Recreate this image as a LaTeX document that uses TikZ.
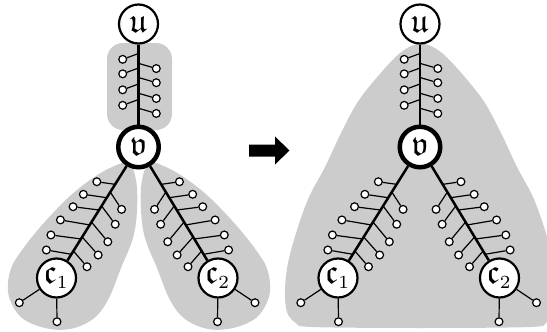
\documentclass[tikz,border=0pt]{standalone}
\usepackage{amsfonts}
\usetikzlibrary{calc}
\newcommand{\biglabel}[1]{\scalebox{3.4}{$#1$}}
\newcommand{\subd}[1]{\scalebox{0.78}{$\scriptstyle #1$}}
\tikzset{
  gshade/.style={fill=black!20, draw=none},
  edge/.style={line width=2.5pt},
  twig/.style={line width=1.2pt},
  leafnode/.style={circle, draw, line width=1.2pt, fill=white, minimum size=7.8pt, inner sep=0pt},
  mainnode/.style={circle, draw, line width=2.2pt, fill=white, minimum size=39pt, inner sep=0pt},
  hubnode/.style={mainnode, line width=4.5pt, minimum size=40.5pt},
}
\newcommand{\drawgraph}[2]{%
  \begin{scope}[xshift=#1pt]
    \node[mainnode] (#2u) at (138.5,24) {\biglabel{\mathfrak{u}}};
    \node[hubnode] (#2v) at (138.5,147) {\biglabel{\mathfrak{v}}};
    \node[mainnode] (#2c1) at (56.5,278) {\biglabel{\mathfrak{c}_{\subd{1}}}};
    \node[mainnode] (#2c2) at (218,278) {\biglabel{\mathfrak{c}_{\subd{2}}}};
    \draw[edge] (#2u) -- (#2v);
    \draw[edge] (#2v) -- (#2c1);
    \draw[edge] (#2v) -- (#2c2);
    % u-v leaves
    \foreach \t [count=\i] in {0.24,0.358,0.488,0.614} {
      \coordinate (#2ua\i) at ($(#2u)!\t!(#2v)$);
      \node[leafnode] (#2ul\i) at ($(#2ua\i)+(-15.8,5.8)$) {};
      \draw[twig] (#2ua\i) -- (#2ul\i);
    }
    \foreach \t [count=\i] in {0.32,0.435,0.563,0.685} {
      \coordinate (#2ub\i) at ($(#2u)!\t!(#2v)$);
      \node[leafnode] (#2um\i) at ($(#2ub\i)+(17.8,5.2)$) {};
      \draw[twig] (#2ub\i) -- (#2um\i);
    }
    % v-c1 and v-c2 leaves, outer side
    \foreach \t/\dx/\dy [count=\i] in {0.285/-18.3/-2.6, 0.387/-23.4/-3.4, 0.481/-26/-3.3, 0.595/-29.3/-5, 0.702/-30/-4, 0.819/-25/-4.3} {
      \coordinate (#2pa\i) at ($(#2v)!\t!(#2c1)$);
      \node[leafnode] (#2pl\i) at ($(#2pa\i)+(\dx,\dy)$) {};
      \draw[twig] (#2pa\i) -- (#2pl\i);
      \coordinate (#2qa\i) at ($(#2v)!\t!(#2c2)$);
      \node[leafnode] (#2ql\i) at ($(#2qa\i)+(-\dx,\dy)$) {};
      \draw[twig] (#2qa\i) -- (#2ql\i);
    }
    % inner side
    \foreach \t/\dx/\dy [count=\i] in {0.344/11.3/17.3, 0.45/13.6/18.3, 0.573/16.3/19.7, 0.687/16/18, 0.794/13.6/15.7} {
      \coordinate (#2ra\i) at ($(#2v)!\t!(#2c1)$);
      \node[leafnode] (#2rl\i) at ($(#2ra\i)+(\dx,\dy)$) {};
      \draw[twig] (#2ra\i) -- (#2rl\i);
      \coordinate (#2sa\i) at ($(#2v)!\t!(#2c2)$);
      \node[leafnode] (#2sl\i) at ($(#2sa\i)+(-\dx,\dy)$) {};
      \draw[twig] (#2sa\i) -- (#2sl\i);
    }
    % leaves at c1, c2
    \node[leafnode] (#2ca) at ($(#2c1)+(-37.2,24.7)$) {};
    \node[leafnode] (#2cb) at ($(#2c1)+(0.5,43.7)$) {};
    \node[leafnode] (#2cc) at ($(#2c2)+(37,24.7)$) {};
    \node[leafnode] (#2cd) at ($(#2c2)+(-0.5,43.7)$) {};
    \draw[twig] (#2c1) -- (#2ca);
    \draw[twig] (#2c1) -- (#2cb);
    \draw[twig] (#2c2) -- (#2cc);
    \draw[twig] (#2c2) -- (#2cd);
  \end{scope}%
}
\begin{document}
\begin{tikzpicture}[x=1pt, y=-1pt]
  \useasboundingbox (0,0) rectangle (547,332);
  \clip (0,0) rectangle (547,332);
  % shading, left
  \fill[gshade, rounded corners=16pt] (107,43) rectangle (172,130);
  \fill[gshade] plot[smooth cycle, tension=0.6] coordinates {(128,163) (136,180) (137,210) (133,238) (121,268) (108,300) (93,319) (70,329) (45,328) (22,318) (10,300) (8,283) (12,266) (22,250) (36,232) (52,214) (70,196) (90,180) (110,168)};
  \fill[gshade] plot[smooth cycle, tension=0.6] coordinates {(150,163) (168,168) (188,180) (208,196) (226,214) (242,232) (256,250) (266,266) (270,283) (268,300) (256,318) (233,328) (208,329) (185,319) (170,300) (157,268) (145,238) (141,210) (142,180)};
  % shading, right
  \fill[gshade] plot[smooth cycle, tension=0.55] coordinates {(421,43.5) (438,50) (456,67) (483,100) (501,133) (517,167) (533,197) (545,230) (554,263) (557,290) (555,312) (546,323) (530,327) (421,328) (312,327) (296,323) (287,312) (285,290) (288,263) (297,230) (309,197) (325,167) (341,133) (359,100) (386,67) (404,50)};
  % arrow
  \fill (249,144.5) -- (275,144.5) -- (275,136.5) -- (289.5,150.5) -- (275,164.5) -- (275,156.5) -- (249,156.5) -- cycle;
  \drawgraph{0}{L}
  \drawgraph{281.5}{R}
\end{tikzpicture}
\end{document}
